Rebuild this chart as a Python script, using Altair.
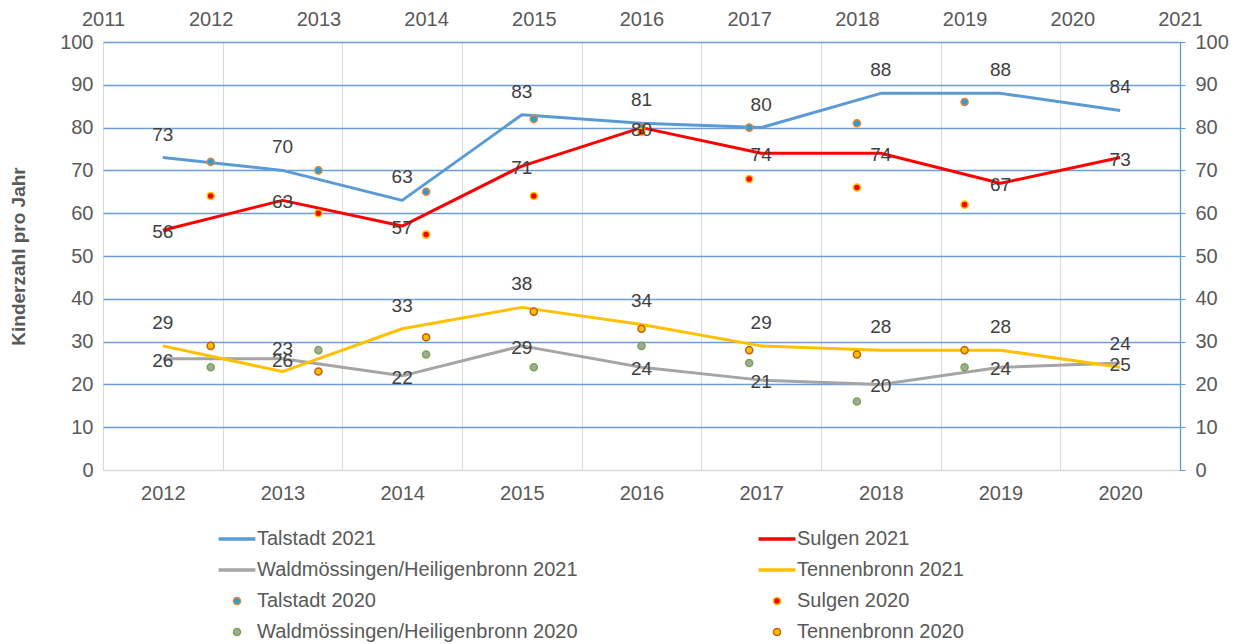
import altair as alt
import pandas as pd

# ---------------- data ----------------
years_2021 = [2012, 2013, 2014, 2015, 2016, 2017, 2018, 2019, 2020]
talstadt_2021 = [73, 70, 63, 83, 81, 80, 88, 88, 84]
sulgen_2021 = [56, 63, 57, 71, 80, 74, 74, 67, 73]
wald_2021 = [26, 26, 22, 29, 24, 21, 20, 24, 25]
tennen_2021 = [29, 23, 33, 38, 34, 29, 28, 28, 24]

years_2020 = [2012, 2013, 2014, 2015, 2016, 2017, 2018, 2019]
talstadt_2020 = [72, 70, 65, 82, 80, 80, 81, 86]
sulgen_2020 = [64, 60, 55, 64, 79, 68, 66, 62]
wald_2020 = [24, 28, 27, 24, 29, 25, 16, 24]
tennen_2020 = [29, 23, 31, 37, 33, 28, 27, 28]

top_axis_years = [2011, 2012, 2013, 2014, 2015, 2016, 2017, 2018, 2019, 2020, 2021]
y_ticks = [0, 10, 20, 30, 40, 50, 60, 70, 80, 90, 100]

# legend order (filled column by column: left column first, then right column)
series_order = [
    "Talstadt 2021", "Waldmössingen/Heiligenbronn 2021",
    "Talstadt 2020", "Waldmössingen/Heiligenbronn 2020",
    "Sulgen 2021", "Tennenbronn 2021",
    "Sulgen 2020", "Tennenbronn 2020",
]
stroke_colors = ["#5B9BD5", "#A5A5A5", "#ED7D31", "#70AD47",
                 "#FF0000", "#FFC000", "#FFC000", "#C55A11"]
fill_colors = ["#5B9BD5", "#A5A5A5", "#1CA3DD", "#A5A5A5",
               "#FF0000", "#FFC000", "#FF0000", "#FFC000"]
LINE_SYM = "M-5,-0.3H5V0.3H-5Z"
shapes = [LINE_SYM, LINE_SYM, "circle", "circle", LINE_SYM, LINE_SYM, "circle", "circle"]

label_pos = {"Talstadt 2021": "above", "Sulgen 2021": "center",
             "Waldmössingen/Heiligenbronn 2021": "center", "Tennenbronn 2021": "above"}

rows = []
for name, vals in [("Talstadt 2021", talstadt_2021), ("Sulgen 2021", sulgen_2021),
                   ("Waldmössingen/Heiligenbronn 2021", wald_2021),
                   ("Tennenbronn 2021", tennen_2021)]:
    for yr, v in zip(years_2021, vals):
        rows.append({"series": name, "year": yr, "value": v, "pos": label_pos[name]})
lines_df = pd.DataFrame(rows)

rows = []
for name, vals in [("Talstadt 2020", talstadt_2020), ("Sulgen 2020", sulgen_2020),
                   ("Waldmössingen/Heiligenbronn 2020", wald_2020),
                   ("Tennenbronn 2020", tennen_2020)]:
    for yr, v in zip(years_2020, vals):
        rows.append({"series": name, "year": yr, "value": v})
points_df = pd.DataFrame(rows)

# ---------------- styling ----------------
FONT = "Liberation Sans"
GREY = "#595959"
BLUE_GRID = "#6A9FD8"
AX_FS = 20

legend = alt.Legend(
    title=None, orient="none", legendX=124, legendY=487, columns=2,
    columnPadding=178, rowPadding=11, labelFontSize=20, labelColor=GREY,
    labelFont=FONT, labelOffset=10, labelLimit=600, symbolSize=50,
    symbolStrokeWidth=1.5,
)
stroke_enc = alt.Stroke("series:N", scale=alt.Scale(domain=series_order, range=stroke_colors), legend=legend)
fill_enc = alt.Fill("series:N", scale=alt.Scale(domain=series_order, range=fill_colors), legend=legend)
shape_enc = alt.Shape("series:N", scale=alt.Scale(domain=series_order, range=shapes), legend=legend)

band_scale = alt.Scale(type="band", paddingInner=0, paddingOuter=0)
y_scale = alt.Scale(domain=[0, 100], nice=False)

x_bottom = alt.X(
    "year:O", bandPosition=0.5, scale=band_scale,
    axis=alt.Axis(orient="bottom", title=None, labelAngle=0, tickBand="extent",
                  grid=True, gridColor="#D9D9D9", gridWidth=1, ticks=False,
                  domainColor="#D9D9D9", labelFontSize=AX_FS, labelColor=GREY,
                  labelFont=FONT, labelPadding=13),
)
y_left = alt.Y(
    "value:Q", scale=y_scale,
    axis=alt.Axis(orient="left", values=y_ticks, title="Kinderzahl pro Jahr",
                  grid=True,
                  gridColor={"condition": {"test": "datum.value === 0", "value": "#D9D9D9"},
                             "value": BLUE_GRID},
                  gridWidth=1.3, domain=False, ticks=False, labelFontSize=AX_FS,
                  labelColor=GREY, labelFont=FONT, labelPadding=10,
                  titleFontSize=19, titleFontWeight="bold", titleColor=GREY,
                  titleFont=FONT, titlePadding=31),
)

lines = alt.Chart(lines_df).mark_line(strokeWidth=3, strokeJoin="round").encode(
    x=x_bottom, y=y_left, stroke=stroke_enc, detail="series:N",
)

points = alt.Chart(points_df).mark_point(filled=True, size=50, strokeWidth=1.5, opacity=1).encode(
    x=alt.X("year:Q", scale=alt.Scale(domain=[2011, 2021], nice=False, zero=False),
            axis=alt.Axis(orient="top", values=top_axis_years, format="d", title=None,
                          grid=False, domain=False, ticks=False, labelFontSize=AX_FS,
                          labelColor=GREY, labelFont=FONT, labelPadding=13,
                          labelFlush=False)),
    y=alt.Y("value:Q", scale=y_scale,
            axis=alt.Axis(orient="right", values=y_ticks, title=None, grid=False,
                          domainColor="#5B9BD5", domainWidth=1.3, tickColor="#5B9BD5",
                          tickSize=5, ticks=True, labelFontSize=AX_FS, labelColor=GREY,
                          labelFont=FONT, labelPadding=10)),
    fill=fill_enc, stroke=stroke_enc, shape=shape_enc,
)


def label_layer(pos, dy):
    return alt.Chart(lines_df).transform_filter(
        alt.datum.pos == pos
    ).mark_text(fontSize=19, font=FONT, color="#404040", dy=dy, baseline="middle").encode(
        x=alt.X("year:O", bandPosition=0.5, scale=band_scale, axis=None),
        y=alt.Y("value:Q", scale=y_scale, axis=None),
        text="value:Q",
    )


chart = alt.layer(
    lines, points, label_layer("above", -23), label_layer("center", 2)
).resolve_scale(
    x="independent", y="independent"
).properties(
    width=1077, height=428,
    autosize=alt.AutoSizeParams(type="none"),
    padding={"left": 103, "top": 42, "right": 66, "bottom": 174},
).configure_view(strokeWidth=0).configure(font=FONT)

chart.save("out.html", embed_options={"renderer": "svg", "actions": False})
